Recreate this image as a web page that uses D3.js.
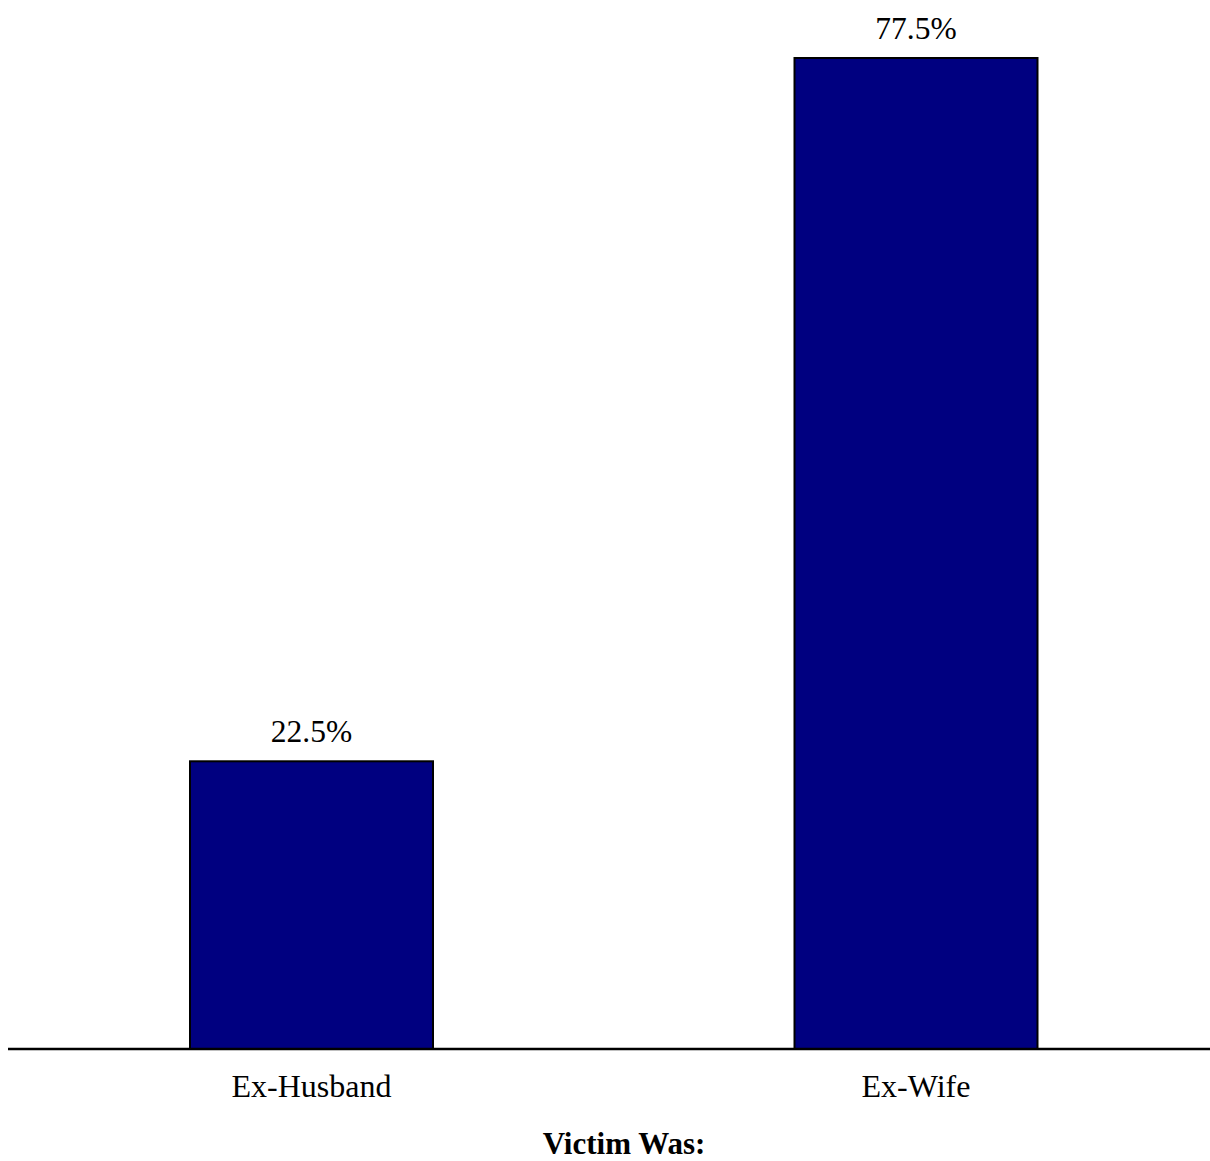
<!DOCTYPE html>
<html>
<head>
<meta charset="utf-8">
<script src="https://cdn.jsdelivr.net/npm/d3@7"></script>
<style>
  html, body { margin: 0; padding: 0; background: #fff; }
  svg { display: block; }
  text { font-family: "Liberation Serif", "Times New Roman", serif; fill: #000; }
</style>
</head>
<body>
<svg id="chart" width="1210" height="1161"></svg>
<script>
const categories = ["Ex-Husband", "Ex-Wife"];
const values = [22.5, 77.5];
const valueLabels = ["22.5%", "77.5%"];
const axisTitle = "Victim Was:";

const svg = d3.select("#chart");
const baseY = 1049;

const x = d3.scaleBand()
  .domain(categories)
  .range([9.25, 1218.25])
  .paddingInner(0)
  .paddingOuter(0);

const y = d3.scaleLinear()
  .domain([0, 77.5])
  .range([baseY, 58]);

const barW = 243;

const data = categories.map((c, i) => ({ c, v: values[i], label: valueLabels[i] }));

svg.selectAll("rect.bar")
  .data(data)
  .enter()
  .append("rect")
  .attr("class", "bar")
  .attr("x", d => x(d.c) + x.bandwidth() / 2 - barW / 2)
  .attr("y", d => y(d.v))
  .attr("width", barW)
  .attr("height", d => y(0) - y(d.v))
  .attr("fill", "#000080")
  .attr("stroke", "#000")
  .attr("stroke-width", 2);

svg.selectAll("text.val")
  .data(data)
  .enter()
  .append("text")
  .attr("class", "val")
  .attr("x", d => x(d.c) + x.bandwidth() / 2)
  .attr("y", d => y(d.v) - 19)
  .attr("text-anchor", "middle")
  .attr("font-size", 31.5)
  .text(d => d.label);

// baseline axis
const xAxis = d3.axisBottom(x).tickSize(0).tickPadding(0);
const gAxis = svg.append("g")
  .attr("transform", `translate(0,${baseY})`)
  .call(xAxis);
gAxis.select(".domain").remove();
gAxis.append("line")
  .attr("x1", 8).attr("x2", 1210)
  .attr("y1", 0).attr("y2", 0)
  .attr("stroke", "#000").attr("stroke-width", 2.5);
gAxis.selectAll(".tick text")
  .attr("font-family", "Liberation Serif, Times New Roman, serif")
  .attr("font-size", 32)
  .attr("fill", "#000")
  .attr("dy", null)
  .attr("y", 48);

svg.append("text")
  .attr("x", 624)
  .attr("y", 1154)
  .attr("text-anchor", "middle")
  .attr("font-size", 31)
  .attr("font-weight", "bold")
  .text(axisTitle);
</script>
</body>
</html>
